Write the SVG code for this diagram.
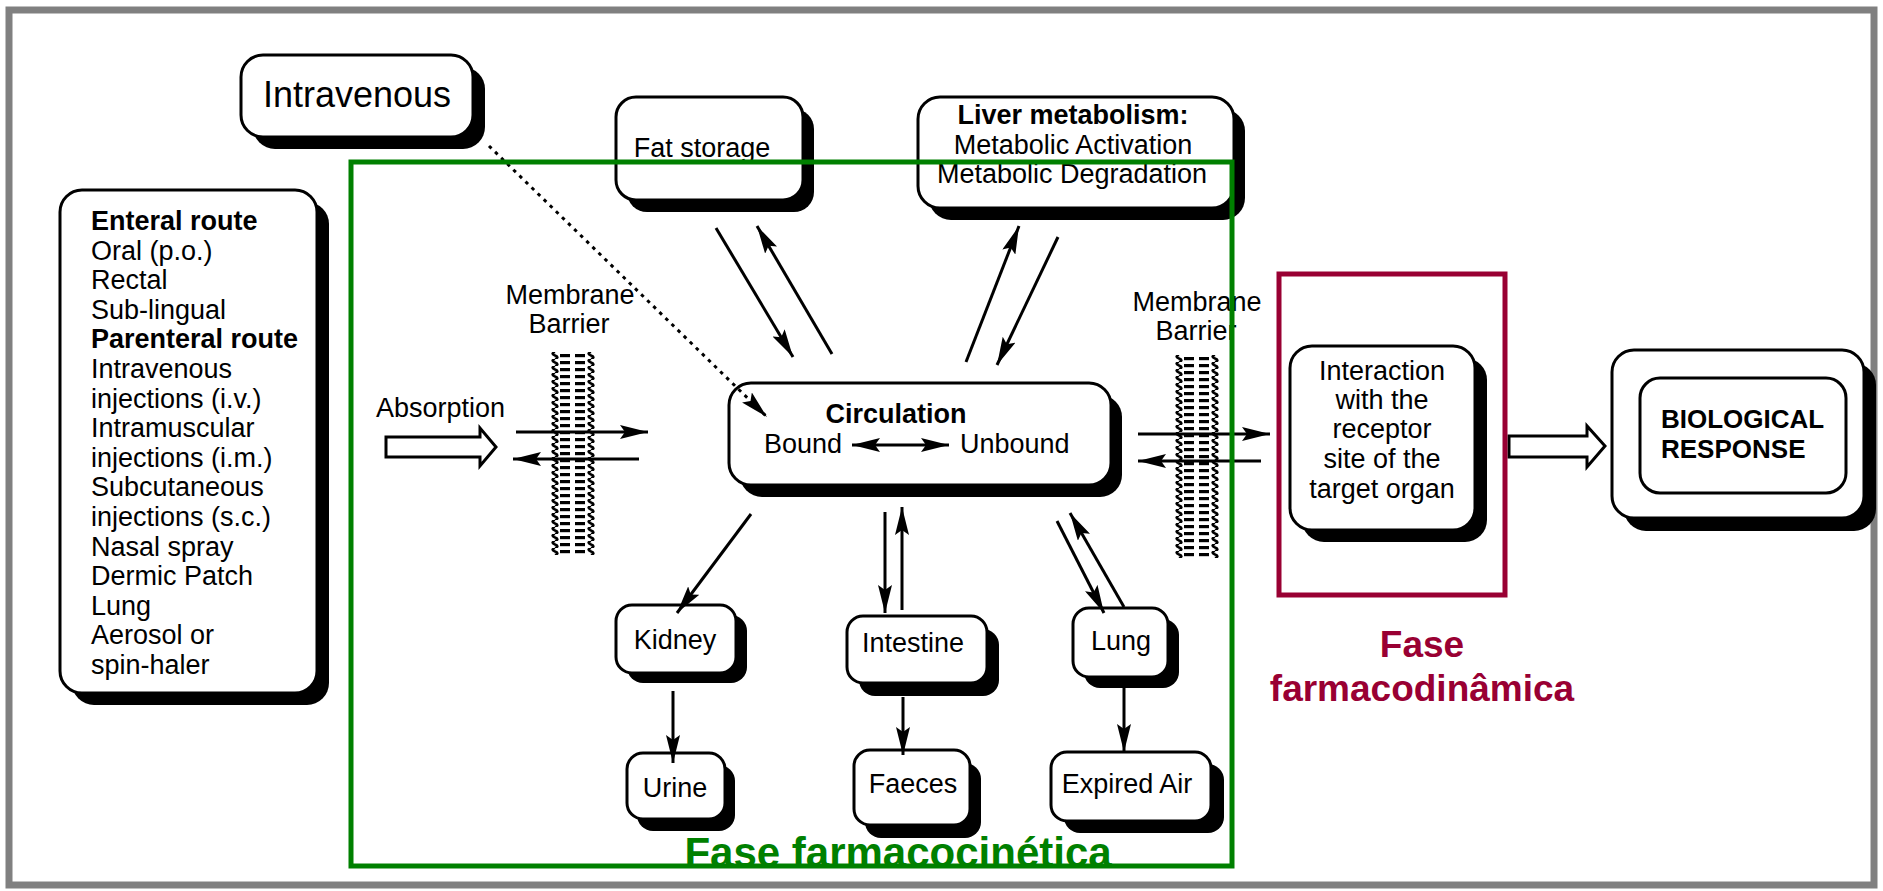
<svg xmlns="http://www.w3.org/2000/svg" width="1883" height="891" viewBox="0 0 1883 891">
<style>
.box{fill:#fff;stroke:#000;stroke-width:3}
.sh{fill:#000}
.t{font-family:"Liberation Sans",Arial,sans-serif;font-size:27px;fill:#000}
.b{font-weight:bold}
.c{text-anchor:middle}
.ln{stroke:#000;stroke-width:3;fill:none}
.arr{marker-end:url(#ah)}
.hollow{fill:#fff;stroke:#000;stroke-width:3;stroke-linejoin:miter}
</style>
<defs>
<marker id="ah" markerUnits="userSpaceOnUse" markerWidth="30" markerHeight="14" refX="28" refY="7" orient="auto-start-reverse">
<path d="M0,0 L28,7 L0,14 L5,7 z" fill="#000"/>
</marker>
<pattern id="mem" patternUnits="userSpaceOnUse" width="46" height="7">
<path d="M5,0 Q0,1.75 5,3.5 Q10,5.25 5,7" fill="none" stroke="#000" stroke-width="2.4"/>
<path d="M41,0 Q36,1.75 41,3.5 Q46,5.25 41,7" fill="none" stroke="#000" stroke-width="2.4"/>
<rect x="10" y="2" width="10" height="3.2" fill="#000"/>
<rect x="25" y="2" width="10" height="3.2" fill="#000"/>
</pattern>
</defs>
<rect x="0" y="0" width="1883" height="891" fill="#fff"/>
<rect x="9" y="10" width="1865" height="875" fill="none" stroke="#808080" stroke-width="7"/>

<g id="intravenous">
<rect class="sh" x="253" y="67" width="232" height="82" rx="22"/>
<rect class="box" x="241" y="55" width="232" height="82" rx="22"/>
<text class="t c" x="357" y="107" style="font-size:36px">Intravenous</text>
</g>

<g id="routes">
<rect class="sh" x="72" y="202" width="257" height="503" rx="22"/>
<rect class="box" x="60" y="190" width="257" height="503" rx="22"/>
<text class="t" x="91" y="230"><tspan class="b">Enteral route</tspan>
<tspan x="91" dy="29.6">Oral (p.o.)</tspan>
<tspan x="91" dy="29.6">Rectal</tspan>
<tspan x="91" dy="29.6">Sub-lingual</tspan>
<tspan x="91" dy="29.6" class="b">Parenteral route</tspan>
<tspan x="91" dy="29.6">Intravenous</tspan>
<tspan x="91" dy="29.6">injections (i.v.)</tspan>
<tspan x="91" dy="29.6">Intramuscular</tspan>
<tspan x="91" dy="29.6">injections (i.m.)</tspan>
<tspan x="91" dy="29.6">Subcutaneous</tspan>
<tspan x="91" dy="29.6">injections (s.c.)</tspan>
<tspan x="91" dy="29.6">Nasal spray</tspan>
<tspan x="91" dy="29.6">Dermic Patch</tspan>
<tspan x="91" dy="29.6">Lung</tspan>
<tspan x="91" dy="29.6">Aerosol or</tspan>
<tspan x="91" dy="29.6">spin-haler</tspan></text>
</g>

<g id="fat-storage">
<rect class="sh" x="627" y="109" width="187" height="103" rx="20"/>
<rect class="box" x="616" y="97" width="187" height="103" rx="20"/>
<text class="t c" x="702" y="157">Fat storage</text>
</g>

<g id="liver">
<rect class="sh" x="929" y="109" width="316" height="111" rx="22"/>
<rect class="box" x="918" y="97" width="316" height="111" rx="22"/>
<text class="t c b" x="1073" y="124">Liver metabolism:</text>
<text class="t c" x="1073" y="154">Metabolic Activation</text>
<text class="t c" x="1072" y="183">Metabolic Degradation</text>
</g>

<g id="circulation">
<rect class="sh" x="740" y="395" width="382" height="102" rx="22"/>
<rect class="box" x="729" y="383" width="382" height="102" rx="22"/>
<text class="t c b" x="896" y="423">Circulation</text>
<text class="t" x="764" y="453">Bound</text>
<text class="t" x="960" y="453">Unbound</text>
</g>

<g id="kidney">
<rect class="sh" x="627" y="615" width="120" height="68" rx="16"/>
<rect class="box" x="616" y="605" width="120" height="68" rx="16"/>
<text class="t c" x="675" y="649">Kidney</text>
</g>
<g id="urine">
<rect class="sh" x="637" y="765" width="98" height="66" rx="16"/>
<rect class="box" x="627" y="753" width="98" height="66" rx="16"/>
<text class="t c" x="675" y="797">Urine</text>
</g>
<g id="intestine">
<rect class="sh" x="859" y="629" width="140" height="67" rx="16"/>
<rect class="box" x="847" y="616" width="140" height="67" rx="16"/>
<text class="t c" x="913" y="652">Intestine</text>
</g>
<g id="faeces">
<rect class="sh" x="865" y="763" width="116" height="75" rx="16"/>
<rect class="box" x="854" y="750" width="116" height="75" rx="16"/>
<text class="t c" x="913" y="793">Faeces</text>
</g>
<g id="lung">
<rect class="sh" x="1084" y="619" width="95" height="69" rx="16"/>
<rect class="box" x="1073" y="608" width="95" height="69" rx="16"/>
<text class="t c" x="1121" y="650">Lung</text>
</g>
<g id="expired-air">
<rect class="sh" x="1064" y="764" width="160" height="69" rx="16"/>
<rect class="box" x="1051" y="752" width="160" height="69" rx="16"/>
<text class="t c" x="1127" y="793">Expired Air</text>
</g>

<g id="interaction">
<rect class="sh" x="1302" y="358" width="185" height="184" rx="22"/>
<rect class="box" x="1290" y="346" width="185" height="184" rx="22"/>
<text class="t c" x="1382" y="380">Interaction</text>
<text class="t c" x="1382" y="409">with the</text>
<text class="t c" x="1382" y="438">receptor</text>
<text class="t c" x="1382" y="468">site of the</text>
<text class="t c" x="1382" y="498">target organ</text>
</g>

<g id="biological-response">
<rect class="sh" x="1624" y="363" width="252" height="168" rx="22"/>
<rect class="box" x="1612" y="350" width="252" height="168" rx="22"/>
<rect class="box" x="1640" y="378" width="206" height="115" rx="20"/>
<text class="t b" x="1661" y="428" style="font-size:26px">BIOLOGICAL</text>
<text class="t b" x="1661" y="458" style="font-size:26px">RESPONSE</text>
</g>

<g id="membrane-left">
<text class="t c" x="570" y="304">Membrane</text>
<text class="t c" x="569" y="333">Barrier</text>
<g transform="translate(550,352)"><rect width="46" height="203" fill="url(#mem)"/></g>
</g>
<g id="membrane-right">
<text class="t c" x="1197" y="311">Membrane</text>
<text class="t c" x="1196" y="340">Barrier</text>
<g transform="translate(1174,355)"><rect width="46" height="203" fill="url(#mem)"/></g>
</g>

<g id="absorption-label">
<text class="t" x="376" y="417">Absorption</text>
</g>

<g id="connectors">
<path class="hollow" d="M386,437 H480 V428 L496,447 L480,466 V457 H386 Z"/>
<path class="hollow" d="M1509,436 H1587 V426 L1605,446 L1587,467 V457 H1509 Z"/>
<line class="ln arr" x1="516" y1="432" x2="648" y2="432"/>
<line class="ln arr" x1="639" y1="459" x2="513" y2="459"/>
<line class="ln arr" x1="1138" y1="434" x2="1270" y2="434"/>
<line class="ln arr" x1="1261" y1="461" x2="1138" y2="461"/>
<line class="ln arr" x1="852" y1="445" x2="949" y2="445" style="marker-start:url(#ah)"/>
<line class="ln arr" x1="489" y1="146" x2="767" y2="417" stroke-dasharray="3.5,5"/>
<line class="ln arr" x1="716" y1="228" x2="793" y2="357"/>
<line class="ln arr" x1="832" y1="354" x2="757" y2="226"/>
<line class="ln arr" x1="966" y1="362" x2="1019" y2="226"/>
<line class="ln arr" x1="1058" y1="237" x2="997" y2="365"/>
<line class="ln arr" x1="751" y1="514" x2="677" y2="613"/>
<line class="ln arr" x1="673" y1="691" x2="673" y2="763"/>
<line class="ln arr" x1="885" y1="512" x2="885" y2="613"/>
<line class="ln arr" x1="902" y1="610" x2="902" y2="507"/>
<line class="ln arr" x1="903" y1="697" x2="903" y2="755"/>
<line class="ln arr" x1="1057" y1="521" x2="1104" y2="613"/>
<line class="ln arr" x1="1124" y1="607" x2="1070" y2="513"/>
<line class="ln arr" x1="1124" y1="688" x2="1124" y2="752"/>
</g>

<g id="fase-farmacocinetica">
<text class="t c b" x="898" y="867" style="font-size:42px;fill:#008000">Fase farmacocinética</text>
<rect x="351" y="162" width="881" height="704" fill="none" stroke="#008000" stroke-width="5"/>
</g>
<g id="fase-farmacodinamica">
<rect x="1279" y="274" width="226" height="321" fill="none" stroke="#990033" stroke-width="5"/>
<text class="t c b" x="1422" y="657" style="font-size:37px;fill:#990033">Fase</text>
<text class="t c b" x="1422" y="701" style="font-size:37px;fill:#990033">farmacodinâmica</text>
</g>
</svg>
